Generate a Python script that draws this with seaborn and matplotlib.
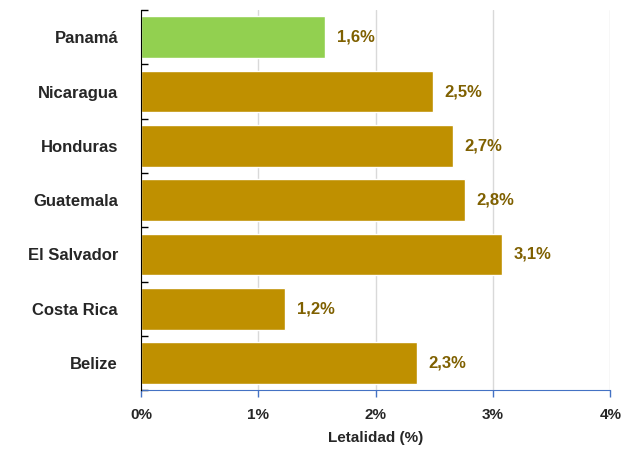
import pandas as pd
import seaborn as sns
import matplotlib.pyplot as plt
import matplotlib.ticker as mticker
import numpy as np

countries = ["Panamá", "Nicaragua", "Honduras", "Guatemala", "El Salvador", "Costa Rica", "Belize"]
values = [1.57, 2.49, 2.66, 2.76, 3.08, 1.23, 2.35]
labels = ["1,6%", "2,5%", "2,7%", "2,8%", "3,1%", "1,2%", "2,3%"]
colors = ["#92D050", "#BF9000", "#BF9000", "#BF9000", "#BF9000", "#BF9000", "#BF9000"]

sns.set_style("white")
plt.rcParams["font.family"] = ["Liberation Sans", "DejaVu Sans"]

df = pd.DataFrame({"pais": countries, "valor": values})
fig = plt.figure(figsize=(6.24, 4.59), dpi=100)
ax = fig.add_axes([0.226, 0.150, 0.752, 0.828])
sns.barplot(data=df, x="valor", y="pais", hue="pais", palette=colors,
            legend=False, width=0.77, saturation=1, ax=ax, zorder=3)

for p, lab in zip(ax.patches, labels):
    ax.text(p.get_width() + 0.1, p.get_y() + p.get_height() / 2, lab,
            va="center", ha="left", fontsize=12, fontweight="bold", color="#7F6000")

ax.set_xlim(0, 4)
ax.set_ylim(6.5, -0.5)
ax.set_xticks([0, 1, 2, 3, 4])
ax.xaxis.set_major_formatter(mticker.FuncFormatter(lambda x, pos: "%d%%" % x))
ax.yaxis.set_minor_locator(mticker.FixedLocator(np.arange(-0.5, 7, 1)))
ax.grid(axis="x", color="#D9D9D9", lw=1, zorder=0)
ax.set_xlabel("Letalidad (%)", fontsize=11, fontweight="bold", labelpad=6)
ax.set_ylabel("")
for s in ["top", "right"]:
    ax.spines[s].set_visible(False)
ax.spines["bottom"].set_color("#4472C4")
ax.spines["left"].set_color("black")
ax.spines["left"].set_zorder(5)
ax.tick_params(axis="x", bottom=True, length=5, width=1, color="#4472C4",
               labelsize=11, direction="out", pad=8)
ax.tick_params(axis="y", which="major", left=False, labelsize=12, pad=13)
ax.tick_params(axis="y", which="minor", left=True, length=5, width=1,
               color="black", direction="in")
for t in ax.get_xticklabels() + ax.get_yticklabels():
    t.set_fontweight("bold")

fig.savefig("out.png", dpi=100)
